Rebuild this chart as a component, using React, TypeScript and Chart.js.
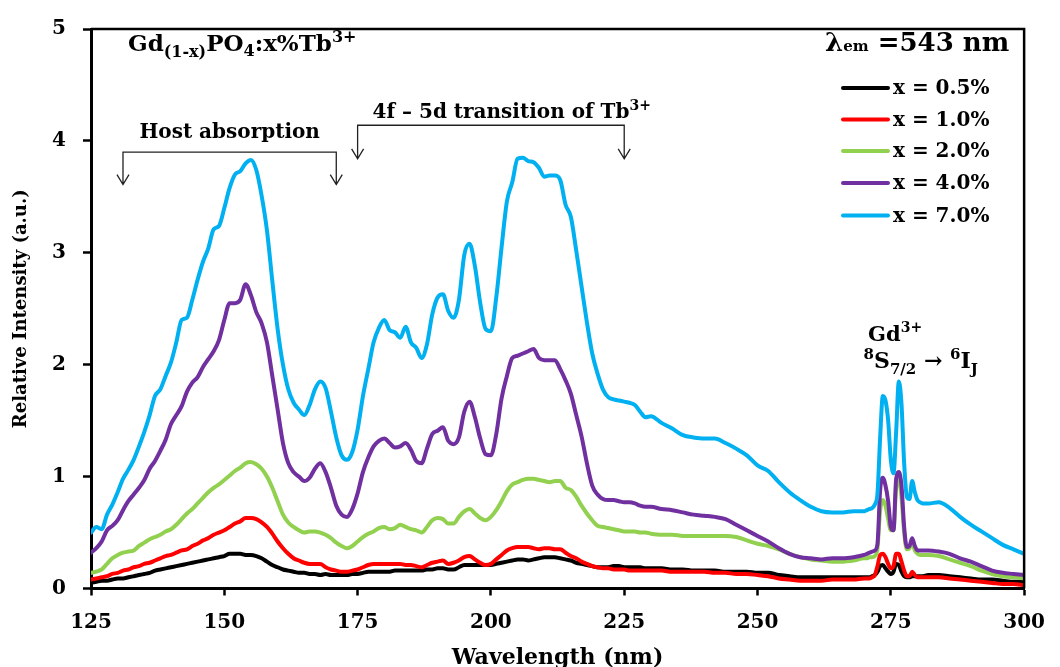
import React, { useEffect, useRef } from "react";
import { Chart, registerables } from "chart.js";

Chart.register(...registerables);

const FF = '"DejaVu Serif", serif';

// Excitation wavelength grid (nm)
const wavelengths = [
  125, 126, 127, 128, 129, 130, 131, 132, 133, 134,
  135, 136, 137, 138, 139, 140, 141, 142, 143, 144,
  145, 146, 147, 148, 149, 150, 151, 152, 153, 154,
  155, 156, 157, 158, 159, 160, 161, 162, 163, 164,
  165, 166, 167, 168, 169, 170, 171, 172, 173, 174,
  175, 176, 177, 178, 179, 180, 181, 182, 183, 184,
  185, 186, 187, 188, 189, 190, 191, 192, 193, 194,
  195, 196, 197, 198, 199, 200, 201, 202, 203, 204,
  205, 206, 207, 208, 209, 210, 211, 212, 213, 214,
  215, 216, 217, 218, 219, 220, 221, 222, 223, 224,
  225, 226, 227, 228, 229, 230,
  232, 234, 236, 238, 240, 242, 244, 246, 248, 250,
  252, 254, 256, 258, 260, 262, 264, 266, 268, 270,
  270.5, 271, 271.5, 272, 272.5, 273, 273.5, 274, 274.5, 275,
  275.5, 276, 276.5, 277, 277.5, 278, 278.5, 279, 279.5, 280,
  280.5, 281,
  282, 284, 286, 288, 290, 292, 294, 296, 298, 300,
];

const tb05 = [
  0.05, 0.06, 0.07, 0.07, 0.08, 0.09, 0.09, 0.10, 0.11, 0.12,
  0.13, 0.14, 0.16, 0.17, 0.18, 0.19, 0.20, 0.21, 0.22, 0.23,
  0.24, 0.25, 0.26, 0.27, 0.28, 0.29, 0.31, 0.31, 0.31, 0.30,
  0.30, 0.29, 0.27, 0.24, 0.21, 0.19, 0.17, 0.16, 0.15, 0.14,
  0.14, 0.13, 0.13, 0.12, 0.13, 0.12, 0.12, 0.12, 0.12, 0.13,
  0.13, 0.14, 0.15, 0.15, 0.15, 0.15, 0.15, 0.16, 0.16, 0.16,
  0.16, 0.16, 0.16, 0.17, 0.17, 0.18, 0.18, 0.17, 0.17, 0.19,
  0.21, 0.21, 0.21, 0.21, 0.21, 0.21, 0.22, 0.23, 0.24, 0.25,
  0.26, 0.26, 0.25, 0.26, 0.27, 0.28, 0.28, 0.28, 0.27, 0.26,
  0.25, 0.23, 0.22, 0.21, 0.20, 0.19, 0.19, 0.19, 0.20, 0.20,
  0.19, 0.19, 0.19, 0.19, 0.18, 0.18,
  0.18, 0.17, 0.17, 0.16, 0.16, 0.16, 0.15, 0.15, 0.15, 0.14,
  0.14, 0.12, 0.11, 0.10, 0.10, 0.10, 0.10, 0.10, 0.10, 0.10,
  0.10, 0.10, 0.11, 0.12, 0.15, 0.20, 0.21, 0.18, 0.15, 0.13,
  0.15, 0.22, 0.21, 0.15, 0.11, 0.10, 0.10, 0.11, 0.11, 0.11,
  0.11, 0.11,
  0.12, 0.12, 0.11, 0.10, 0.09, 0.08, 0.08, 0.07, 0.06, 0.06,
];

const tb10 = [
  0.08, 0.09, 0.10, 0.11, 0.13, 0.14, 0.16, 0.17, 0.19, 0.20,
  0.22, 0.23, 0.25, 0.27, 0.29, 0.30, 0.32, 0.34, 0.35, 0.38,
  0.40, 0.43, 0.45, 0.48, 0.50, 0.52, 0.55, 0.58, 0.60, 0.63,
  0.63, 0.62, 0.59, 0.55, 0.49, 0.42, 0.36, 0.31, 0.27, 0.25,
  0.23, 0.22, 0.22, 0.22, 0.19, 0.17, 0.16, 0.15, 0.15, 0.16,
  0.17, 0.19, 0.21, 0.22, 0.22, 0.22, 0.22, 0.22, 0.22, 0.21,
  0.21, 0.20, 0.19, 0.21, 0.23, 0.24, 0.25, 0.22, 0.23, 0.25,
  0.28, 0.29, 0.26, 0.23, 0.21, 0.22, 0.26, 0.30, 0.34, 0.36,
  0.37, 0.37, 0.37, 0.36, 0.35, 0.36, 0.36, 0.35, 0.35, 0.32,
  0.29, 0.27, 0.24, 0.22, 0.20, 0.19, 0.18, 0.18, 0.17, 0.17,
  0.17, 0.16, 0.16, 0.16, 0.16, 0.16,
  0.16, 0.15, 0.15, 0.15, 0.15, 0.14, 0.14, 0.13, 0.13, 0.12,
  0.11, 0.09, 0.08, 0.07, 0.07, 0.07, 0.08, 0.08, 0.08, 0.09,
  0.09, 0.09, 0.10, 0.12, 0.20, 0.30, 0.31, 0.28, 0.22, 0.18,
  0.20, 0.31, 0.31, 0.24, 0.16, 0.11, 0.11, 0.15, 0.12, 0.10,
  0.10, 0.10,
  0.10, 0.10, 0.09, 0.08, 0.07, 0.06, 0.05, 0.04, 0.04, 0.03,
];

const tb20 = [
  0.14, 0.15, 0.17, 0.22, 0.27, 0.30, 0.32, 0.33, 0.34, 0.38,
  0.41, 0.44, 0.46, 0.48, 0.51, 0.53, 0.57, 0.62, 0.67, 0.71,
  0.76, 0.81, 0.86, 0.90, 0.93, 0.97, 1.01, 1.05, 1.08, 1.12,
  1.13, 1.11, 1.07, 1.00, 0.90, 0.78, 0.66, 0.59, 0.55, 0.52,
  0.50, 0.51, 0.51, 0.50, 0.48, 0.45, 0.41, 0.38, 0.36, 0.38,
  0.42, 0.46, 0.49, 0.51, 0.54, 0.55, 0.53, 0.54, 0.57, 0.55,
  0.53, 0.52, 0.50, 0.55, 0.61, 0.63, 0.62, 0.58, 0.58, 0.64,
  0.69, 0.71, 0.67, 0.63, 0.61, 0.64, 0.70, 0.78, 0.87, 0.93,
  0.95, 0.97, 0.98, 0.98, 0.97, 0.96, 0.95, 0.96, 0.96, 0.90,
  0.88, 0.82, 0.74, 0.67, 0.61, 0.56, 0.55, 0.54, 0.53, 0.52,
  0.51, 0.51, 0.51, 0.50, 0.50, 0.49,
  0.48, 0.48, 0.47, 0.47, 0.47, 0.47, 0.47, 0.46, 0.43, 0.40,
  0.38, 0.35, 0.31, 0.28, 0.26, 0.25, 0.24, 0.24, 0.25, 0.27,
  0.27, 0.28, 0.28, 0.29, 0.36, 0.70, 0.79, 0.74, 0.62, 0.52,
  0.52, 0.90, 0.97, 0.82, 0.50, 0.35, 0.36, 0.41, 0.34, 0.31,
  0.30, 0.30,
  0.30, 0.29, 0.26, 0.23, 0.20, 0.16, 0.13, 0.11, 0.10, 0.09,
];

const tb40 = [
  0.32, 0.36, 0.42, 0.52, 0.56, 0.61, 0.70, 0.78, 0.84, 0.90,
  0.97, 1.07, 1.14, 1.23, 1.33, 1.47, 1.55, 1.63, 1.76, 1.84,
  1.89, 1.98, 2.05, 2.12, 2.22, 2.40, 2.55, 2.55, 2.58, 2.72,
  2.62, 2.47, 2.37, 2.20, 1.90, 1.60, 1.30, 1.12, 1.04, 1.00,
  0.96, 0.99, 1.07, 1.12, 1.04, 0.90, 0.74, 0.66, 0.64, 0.71,
  0.85, 1.04, 1.17, 1.27, 1.32, 1.34, 1.30, 1.26, 1.27, 1.30,
  1.24, 1.14, 1.12, 1.25, 1.38, 1.41, 1.44, 1.32, 1.29, 1.35,
  1.58, 1.67, 1.53, 1.34, 1.20, 1.19, 1.38, 1.70, 1.90, 2.06,
  2.08, 2.10, 2.12, 2.14, 2.06, 2.04, 2.04, 2.04, 1.96, 1.86,
  1.74, 1.55, 1.36, 1.12, 0.92, 0.84, 0.80, 0.79, 0.79, 0.78,
  0.77, 0.77, 0.76, 0.74, 0.73, 0.73,
  0.71, 0.70, 0.68, 0.66, 0.65, 0.64, 0.62, 0.57, 0.52, 0.47,
  0.42, 0.36, 0.31, 0.28, 0.27, 0.26, 0.27, 0.27, 0.28, 0.30,
  0.31, 0.32, 0.33, 0.34, 0.40, 0.88, 0.99, 0.92, 0.78, 0.55,
  0.52, 0.98, 1.04, 0.92, 0.55, 0.37, 0.38, 0.45, 0.38, 0.34,
  0.34, 0.34,
  0.34, 0.33, 0.31, 0.27, 0.24, 0.20, 0.16, 0.14, 0.13, 0.12,
];

const tb70 = [
  0.50, 0.55, 0.53, 0.66, 0.75, 0.86, 0.98, 1.06, 1.15, 1.27,
  1.40, 1.55, 1.72, 1.78, 1.90, 2.02, 2.20, 2.40, 2.42, 2.58,
  2.76, 2.92, 3.04, 3.21, 3.24, 3.40, 3.58, 3.70, 3.73, 3.80,
  3.83, 3.74, 3.51, 3.20, 2.75, 2.32, 2.00, 1.78, 1.66, 1.60,
  1.55, 1.64, 1.78, 1.85, 1.79, 1.58, 1.35, 1.19, 1.15, 1.22,
  1.42, 1.72, 1.96, 2.20, 2.33, 2.40, 2.31, 2.29, 2.24, 2.34,
  2.20, 2.15, 2.06, 2.18, 2.45, 2.60, 2.63, 2.48, 2.42, 2.58,
  2.98, 3.08, 2.88, 2.55, 2.32, 2.30, 2.60, 3.05, 3.46, 3.63,
  3.84, 3.85, 3.82, 3.81, 3.76, 3.68, 3.69, 3.69, 3.65, 3.43,
  3.32, 3.02, 2.70, 2.38, 2.10, 1.92, 1.78, 1.71, 1.69, 1.68,
  1.67, 1.66, 1.64, 1.58, 1.53, 1.54,
  1.48, 1.43, 1.37, 1.35, 1.34, 1.34, 1.30, 1.25, 1.19, 1.10,
  1.05, 0.95, 0.86, 0.79, 0.73, 0.69, 0.68, 0.68, 0.69, 0.69,
  0.70, 0.71, 0.72, 0.75, 0.85, 1.35, 1.72, 1.68, 1.50, 1.15,
  1.03, 1.40, 1.85, 1.65, 1.12, 0.82, 0.80, 0.96, 0.86, 0.79,
  0.77, 0.76,
  0.76, 0.77, 0.72, 0.64, 0.57, 0.51, 0.45, 0.39, 0.35, 0.31,
];

const seriesLabels = ["x = 0.5%", "x = 1.0%", "x = 2.0%", "x = 4.0%", "x = 7.0%"];
const seriesColors = ["#000000", "#FF0000", "#92D050", "#7030A0", "#00B0F0"];
const seriesValues = [tb05, tb10, tb20, tb40, tb70];

const xMin = 125;
const xMax = 300;
const xStep = 25;
const yMin = 0;
const yMax = 5;
const yStep = 1;

type Piece = { t: string; size: number; dy?: number };

function richWidth(ctx: CanvasRenderingContext2D, pieces: Piece[]) {
  let w = 0;
  for (const p of pieces) {
    ctx.font = `bold ${p.size}px ${FF}`;
    w += ctx.measureText(p.t).width;
  }
  return w;
}

function drawRich(
  ctx: CanvasRenderingContext2D,
  pieces: Piece[],
  x: number,
  y: number,
  align: "left" | "center"
) {
  const total = richWidth(ctx, pieces);
  let cx = align === "center" ? x - total / 2 : x;
  ctx.textAlign = "left";
  ctx.textBaseline = "alphabetic";
  ctx.fillStyle = "#000";
  for (const p of pieces) {
    ctx.font = `bold ${p.size}px ${FF}`;
    ctx.fillText(p.t, cx, y + (p.dy || 0));
    cx += ctx.measureText(p.t).width;
  }
}

function bracket(
  ctx: CanvasRenderingContext2D,
  x1: number,
  x2: number,
  yTop: number,
  yBottom: number
) {
  ctx.save();
  ctx.strokeStyle = "#222";
  ctx.lineWidth = 1.3;
  ctx.beginPath();
  ctx.moveTo(x1, yBottom);
  ctx.lineTo(x1, yTop);
  ctx.lineTo(x2, yTop);
  ctx.lineTo(x2, yBottom);
  for (const x of [x1, x2]) {
    ctx.moveTo(x - 6, yBottom - 10);
    ctx.lineTo(x, yBottom);
    ctx.lineTo(x + 6, yBottom - 10);
  }
  ctx.stroke();
  ctx.restore();
}

const decorPlugin = {
  id: "decor",
  afterDraw(chart: any) {
    const ctx: CanvasRenderingContext2D = chart.ctx;
    const { left, right, top, bottom } = chart.chartArea;
    const xs = chart.scales.x;
    const ys = chart.scales.y;

    // frame (top and right)
    ctx.save();
    ctx.strokeStyle = "#000";
    ctx.lineWidth = 2.5;
    ctx.beginPath();
    ctx.moveTo(left, top);
    ctx.lineTo(right, top);
    ctx.lineTo(right, bottom);
    ctx.stroke();
    ctx.restore();

    // brackets
    bracket(ctx, xs.getPixelForValue(131), xs.getPixelForValue(171), ys.getPixelForValue(3.9), ys.getPixelForValue(3.61));
    bracket(ctx, xs.getPixelForValue(175), xs.getPixelForValue(225), ys.getPixelForValue(4.14), ys.getPixelForValue(3.84));

    drawRich(ctx, [{ t: "Host absorption", size: 20 }], xs.getPixelForValue(151), ys.getPixelForValue(4.03), "center");
    drawRich(
      ctx,
      [
        { t: "4f \u2013 5d transition of Tb", size: 20 },
        { t: "3+", size: 14, dy: -8 },
      ],
      xs.getPixelForValue(203.9),
      ys.getPixelForValue(4.205),
      "center"
    );

    // Gd3+ label
    drawRich(
      ctx,
      [
        { t: "Gd", size: 21 },
        { t: "3+", size: 14, dy: -9 },
      ],
      xs.getPixelForValue(275.8),
      ys.getPixelForValue(2.21),
      "center"
    );
    drawRich(
      ctx,
      [
        { t: "8", size: 15, dy: -9 },
        { t: "S", size: 22 },
        { t: "7/2", size: 15, dy: 6 },
        { t: " \u2192 ", size: 22 },
        { t: "6", size: 15, dy: -9 },
        { t: "I", size: 22 },
        { t: "J", size: 15, dy: 6 },
      ],
      xs.getPixelForValue(280.6),
      ys.getPixelForValue(1.97),
      "center"
    );

    // compound title
    drawRich(
      ctx,
      [
        { t: "Gd", size: 23 },
        { t: "(1-x)", size: 16, dy: 6 },
        { t: "PO", size: 23 },
        { t: "4", size: 16, dy: 5 },
        { t: ":x%Tb", size: 23 },
        { t: "3+", size: 16, dy: -9 },
      ],
      128,
      51,
      "left"
    );

    // emission wavelength
    drawRich(
      ctx,
      [
        { t: "\u03bb", size: 26 },
        { t: "em", size: 15 },
        { t: " =543 nm", size: 26 },
      ],
      825,
      51,
      "left"
    );

    // legend
    const legendY = [88, 119.5, 151, 183, 215.5];
    chart.data.datasets.forEach((ds: any, i: number) => {
      const y = legendY[i];
      ctx.save();
      ctx.strokeStyle = ds.borderColor;
      ctx.lineWidth = 4;
      ctx.lineCap = "round";
      ctx.beginPath();
      ctx.moveTo(843, y);
      ctx.lineTo(888, y);
      ctx.stroke();
      ctx.fillStyle = "#000";
      ctx.font = `bold 20px ${FF}`;
      ctx.textAlign = "left";
      ctx.textBaseline = "middle";
      ctx.fillText(ds.label, 893, y + 1);
      ctx.restore();
    });
  },
};

export default function App() {
  const canvasRef = useRef<HTMLCanvasElement | null>(null);

  useEffect(() => {
    if (!canvasRef.current) return;
    const datasets = seriesValues.map((vals, i) => ({
      label: seriesLabels[i],
      data: wavelengths.map((w, j) => ({ x: w, y: vals[j] })),
      borderColor: seriesColors[i],
      backgroundColor: seriesColors[i],
      borderWidth: 4,
      pointRadius: 0,
      cubicInterpolationMode: "monotone" as const,
      borderJoinStyle: "round" as const,
      borderCapStyle: "round" as const,
      order: seriesValues.length - i,
      fill: false,
    }));

    const chart = new Chart(canvasRef.current, {
      type: "line",
      data: { datasets },
      plugins: [decorPlugin],
      options: {
        responsive: false,
        animation: false,
        devicePixelRatio: 1,
        layout: { padding: { top: 16, right: 28, left: 0, bottom: 0 } },
        plugins: {
          legend: { display: false },
          tooltip: { enabled: false },
        },
        scales: {
          x: {
            type: "linear",
            min: xMin,
            max: xMax,
            afterFit: (s: any) => {
              s.height = 78.5;
            },
            ticks: {
              stepSize: xStep,
              color: "#000",
              padding: 15,
              font: { family: FF, size: 20, weight: "bold" },
            },
            grid: {
              drawOnChartArea: false,
              drawTicks: true,
              tickLength: 7,
              tickWidth: 2.5,
              tickColor: "#000",
            },
            border: { display: true, color: "#000", width: 3 },
            title: {
              display: true,
              text: "Wavelength (nm)",
              color: "#000",
              font: { family: FF, size: 22, weight: "bold", lineHeight: 0.8 },
              padding: { top: 0, bottom: 0 },
            },
          },
          y: {
            type: "linear",
            min: yMin,
            max: yMax,
            afterFit: (s: any) => {
              s.width = 91;
            },
            ticks: {
              stepSize: yStep,
              color: "#000",
              padding: 17,
              font: { family: FF, size: 20, weight: "bold" },
            },
            grid: {
              drawOnChartArea: false,
              drawTicks: true,
              tickLength: 8,
              tickWidth: 2.5,
              tickColor: "#000",
            },
            border: { display: true, color: "#000", width: 3 },
            title: {
              display: true,
              text: "Relative Intensity (a.u.)",
              color: "#000",
              font: { family: FF, size: 18, weight: "bold" },
              padding: { top: 11, bottom: 0 },
            },
          },
        },
      },
    });
    return () => chart.destroy();
  }, []);

  return (
    <div style={{ position: "fixed", left: 0, top: 0, width: 1060, height: 667, background: "#fff" }}>
      <canvas ref={canvasRef} width={1060} height={667} />
    </div>
  );
}
